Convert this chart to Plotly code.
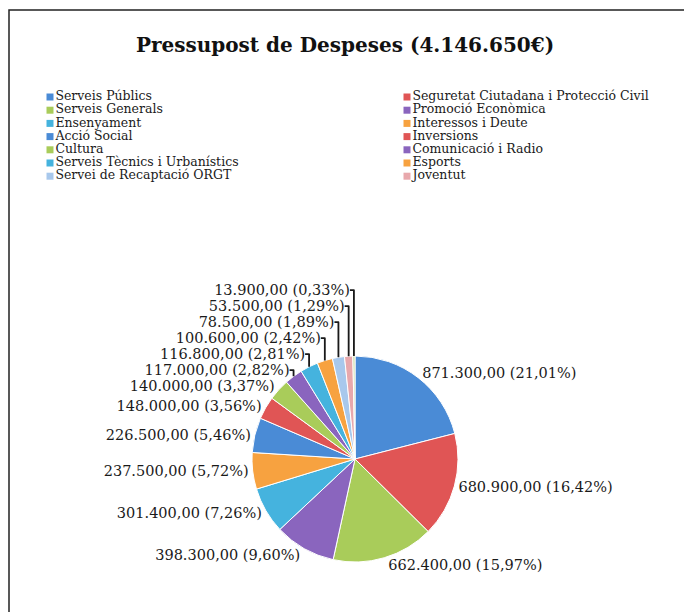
import plotly.graph_objects as go

# ---- data ----
labels = [
    "Serveis Públics",
    "Seguretat Ciutadana i Protecció Civil",
    "Serveis Generals",
    "Promoció Econòmica",
    "Ensenyament",
    "Interessos i Deute",
    "Acció Social",
    "Inversions",
    "Cultura",
    "Comunicació i Radio",
    "Serveis Tècnics i Urbanístics",
    "Esports",
    "Servei de Recaptació ORGT",
    "Joventut",
    "Altres",
]
values = [871300, 680900, 662400, 398300, 301400, 237500, 226500, 148000,
          140000, 117000, 116800, 100600, 78500, 53500, 13900]
percent_labels = ["21,01%", "16,42%", "15,97%", "9,60%", "7,26%", "5,72%",
                  "5,46%", "3,56%", "3,37%", "2,82%", "2,81%", "2,42%",
                  "1,89%", "1,29%", "0,33%"]
title_text = "Pressupost de Despeses (4.146.650€)"
legend_count = 14  # entries shown in the reference legend

# ---- styles ----
colors = ["#4A8BD6", "#E05555", "#A9CC5A", "#8A65BE", "#45B3DE", "#F7A240",
          "#4A8BD6", "#E05555", "#A9CC5A", "#8A65BE", "#45B3DE", "#F7A240",
          "#A8C8EC", "#E8A8AC", "#C8DCA0"]
FONT = "DejaVu Serif"
W, H = 692, 612
OFF = 8  # page body margin offset in the screenshot

fig = go.Figure()

cx, cy, r = 355 - OFF, 459 - OFF, 103
fig.add_trace(go.Pie(
    labels=labels,
    values=values,
    customdata=percent_labels,
    texttemplate="%{value:,.2f} (%{customdata})",
    textposition="outside",
    outsidetextfont=dict(family=FONT, size=14.5, color="#1a1a1a"),
    sort=False,
    direction="clockwise",
    rotation=0,
    marker=dict(colors=colors, line=dict(color="white", width=1)),
    domain=dict(x=[(cx - r) / W, (cx + r) / W],
                y=[(H - cy - r) / H, (H - cy + r) / H]),
    showlegend=False,
    hoverinfo="skip",
))

# legend drawn as a two-column grid from the label list
leg_labels = labels[:legend_count]
cols = [i % 2 for i in range(legend_count)]
rows = [i // 2 for i in range(legend_count)]
fig.add_trace(go.Scatter(
    x=cols, y=rows, text=leg_labels,
    mode="markers+text", textposition="middle right",
    marker=dict(symbol="square", size=7, color=colors[:legend_count]),
    textfont=dict(family=FONT, size=12.5, color="#1a1a1a"),
    showlegend=False, hoverinfo="skip", cliponaxis=False,
))

# axis mapping: col 0 -> 50px, col 1 -> 407px ; row 0 -> 97px, step 13.2px
x0px, dxpx = 50 - OFF, 357
y0px, dypx = 97 - OFF, 13.2
fig.update_xaxes(visible=False, range=[-x0px / dxpx, (W - x0px) / dxpx],
                 domain=[0, 1], fixedrange=True)
fig.update_yaxes(visible=False, range=[(H - y0px) / dypx, -y0px / dypx],
                 domain=[0, 1], fixedrange=True)

fig.add_shape(type="rect", xref="paper", yref="paper",
              x0=(9 - OFF) / W, x1=1.2, y0=-0.2, y1=(H - 10 + OFF) / H,
              line=dict(color="#222222", width=1.5), fillcolor="rgba(0,0,0,0)")

fig.update_layout(
    width=W, height=H,
    margin=dict(l=0, r=0, t=0, b=0),
    paper_bgcolor="white", plot_bgcolor="rgba(0,0,0,0)",
    separators=",.",
    title=dict(text="<b>" + title_text + "</b>", x=(345 - OFF) / W, xanchor="center",
               y=1 - (45 - OFF) / H, yanchor="middle",
               font=dict(family=FONT, size=20, color="#111111")),
)

fig.write_html("out.html")
